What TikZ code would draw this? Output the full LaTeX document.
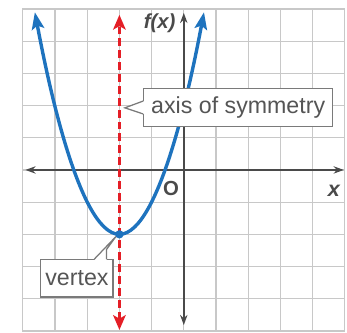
\documentclass[tikz,border=0pt]{standalone}
\usepackage{fontspec}
\setmainfont{Liberation Sans}
\usetikzlibrary{arrows.meta,calc}
\definecolor{curveblue}{HTML}{1E73BE}
\definecolor{axisred}{HTML}{E41E26}
\definecolor{gridgray}{HTML}{C8C8C8}
\definecolor{axisgray}{HTML}{4A4A4A}
\definecolor{boxgray}{HTML}{7A7A7A}
\definecolor{textgray}{HTML}{555555}
\begin{document}
\begin{tikzpicture}[x=1cm,y=1cm,
  gridline/.style={gridgray, line width=1pt},
  axisline/.style={axisgray, line width=1.4pt, {Stealth[length=9pt,width=6.5pt]}-{Stealth[length=9pt,width=6.5pt]}},
  symline/.style={axisred, line width=2.7pt, dash pattern=on 7pt off 3.5pt,
    {Stealth[length=13pt,width=11pt,inset=3pt]}-{Stealth[length=13pt,width=11pt,inset=3pt]}},
  curveline/.style={curveblue, line width=3pt,
    {Stealth[length=15pt,width=11pt,inset=3pt]}-{Stealth[length=15pt,width=11pt,inset=3pt]}},
  callout/.style={draw=boxgray, line width=1.1pt, fill=white, inner sep=0pt,
    text=textgray, font=\fontsize{20.5}{24}\selectfont},
  calloutedge/.style={boxgray, line width=1.1pt, line join=miter},
  axislabel/.style={text=axisgray, inner sep=0pt, font=\fontsize{18}{21}\selectfont\bfseries}]
\useasboundingbox (-5.71,-5.06) rectangle (5.07,5.28);
% grid
\draw[gridline] (-5,-5.03) grid (5,5);
\draw[gridline] (-5,-5.03) rectangle (5,5);
% axes
\coordinate (xl) at (-4.92,0);
\coordinate (xr) at (4.97,0);
\coordinate (yb) at (0,-4.82);
\coordinate (yt) at (0,4.88);
\draw[axisline] (xl) -- (xr);
\draw[axisline] (yb) -- (yt);
% axis of symmetry
\coordinate (st) at (-2,4.82);
\coordinate (sb) at (-2,-4.97);
\draw[symline] (sb) -- (st);
% parabola
\coordinate (pl) at (-4.627,4.9);
\coordinate (vx) at (-2,-2);
\coordinate (pr) at (0.627,4.9);
\draw[curveline] (pl) parabola bend (vx) (pr);
\fill[curveblue] (vx) circle (0.13);
% labels on axes
\node[axislabel, font=\fontsize{18}{21}\selectfont\bfseries\itshape] (fx) at (-0.75,4.56) {f(x)};
\node[axislabel] (orig) at (-0.40,-0.59) {O};
\node[axislabel, font=\fontsize{19}{21}\selectfont\bfseries\itshape] (xlab) at (4.66,-0.66) {x};
% callout: axis of symmetry
\coordinate (symtip) at (-1.83,1.93);
\node[callout, minimum width=5.87cm, minimum height=1.2cm] (axlab) at (1.69,1.94) {axis of symmetry};
\fill[white] ($(axlab.west)+(0.03,0.2)$) -- (symtip) -- ($(axlab.west)+(0.03,-0.2)$) -- cycle;
\draw[calloutedge] ($(axlab.west)+(0,0.2)$) -- (symtip) -- ($(axlab.west)+(0,-0.2)$);
% callout: vertex
\coordinate (vtip) at (-2.11,-2.07);
\node[callout, minimum width=2.24cm, minimum height=1.16cm] (vlab) at (-3.32,-3.37) {vertex};
\fill[white] ($(vlab.north east)+(-0.6,-0.03)$) -- (vtip) -- ($(vlab.north east)+(-0.22,0.3)$) -- ($(vlab.north east)+(-0.22,-0.03)$) -- cycle;
\draw[calloutedge] ($(vlab.north east)+(-0.6,0)$) -- (vtip) -- ($(vlab.north east)+(-0.22,0.3)$) -- ($(vlab.north east)+(-0.22,0)$);
\end{tikzpicture}
\end{document}
